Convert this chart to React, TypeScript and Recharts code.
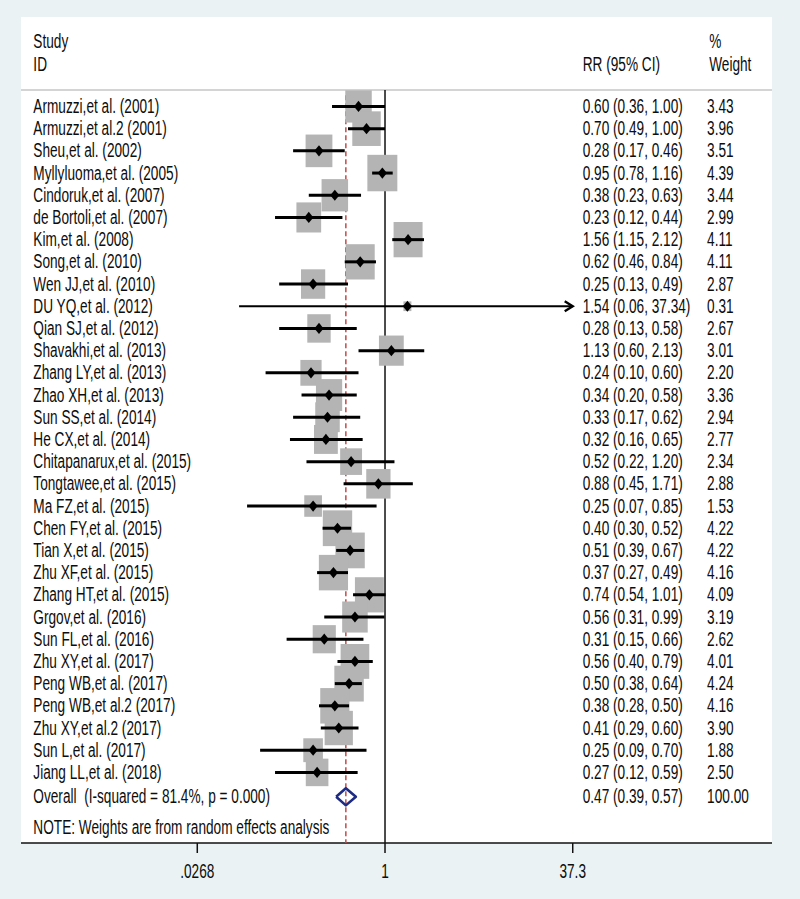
import React from 'react';
import { ScatterChart, Scatter, XAxis, YAxis, CartesianGrid } from 'recharts';

// ---------------- data ----------------
const studies = [
  'Armuzzi,et al. (2001)',
  'Armuzzi,et al.2 (2001)',
  'Sheu,et al. (2002)',
  'Myllyluoma,et al. (2005)',
  'Cindoruk,et al. (2007)',
  'de Bortoli,et al. (2007)',
  'Kim,et al. (2008)',
  'Song,et al. (2010)',
  'Wen JJ,et al. (2010)',
  'DU YQ,et al. (2012)',
  'Qian SJ,et al. (2012)',
  'Shavakhi,et al. (2013)',
  'Zhang LY,et al. (2013)',
  'Zhao XH,et al. (2013)',
  'Sun SS,et al. (2014)',
  'He CX,et al. (2014)',
  'Chitapanarux,et al. (2015)',
  'Tongtawee,et al. (2015)',
  'Ma FZ,et al. (2015)',
  'Chen FY,et al. (2015)',
  'Tian X,et al. (2015)',
  'Zhu XF,et al. (2015)',
  'Zhang HT,et al. (2015)',
  'Grgov,et al. (2016)',
  'Sun FL,et al. (2016)',
  'Zhu XY,et al. (2017)',
  'Peng WB,et al. (2017)',
  'Peng WB,et al.2 (2017)',
  'Zhu XY,et al.2 (2017)',
  'Sun L,et al. (2017)',
  'Jiang LL,et al. (2018)',
];
const rr = [0.6, 0.7, 0.28, 0.95, 0.38, 0.23, 1.56, 0.62, 0.25, 1.54, 0.28, 1.13, 0.24, 0.34, 0.33, 0.32, 0.52, 0.88, 0.25, 0.4, 0.51, 0.37, 0.74, 0.56, 0.31, 0.56, 0.5, 0.38, 0.41, 0.25, 0.27];
const ciLow = [0.36, 0.49, 0.17, 0.78, 0.23, 0.12, 1.15, 0.46, 0.13, 0.06, 0.13, 0.6, 0.1, 0.2, 0.17, 0.16, 0.22, 0.45, 0.07, 0.3, 0.39, 0.27, 0.54, 0.31, 0.15, 0.4, 0.38, 0.28, 0.29, 0.09, 0.12];
const ciHigh = [1.0, 1.0, 0.46, 1.16, 0.63, 0.44, 2.12, 0.84, 0.49, 37.34, 0.58, 2.13, 0.6, 0.58, 0.62, 0.65, 1.2, 1.71, 0.85, 0.52, 0.67, 0.49, 1.01, 0.99, 0.66, 0.79, 0.64, 0.5, 0.6, 0.7, 0.59];
const weights = [3.43, 3.96, 3.51, 4.39, 3.44, 2.99, 4.11, 4.11, 2.87, 0.31, 2.67, 3.01, 2.2, 3.36, 2.94, 2.77, 2.34, 2.88, 1.53, 4.22, 4.22, 4.16, 4.09, 3.19, 2.62, 4.01, 4.24, 4.16, 3.9, 1.88, 2.5];

const overallLabel = 'Overall  (I-squared = 81.4%, p = 0.000)';
const overallRR = 0.47;
const overallLow = 0.39;
const overallHigh = 0.57;
const overallWeight = 100.0;

const headerLeft = ['Study', 'ID'];
const headerRR = 'RR (95% CI)';
const headerWeight = ['%', 'Weight'];
const noteText = 'NOTE: Weights are from random effects analysis';

const tickValues = [0.0268, 1, 37.3];
const tickLabels = ['.0268', '1', '37.3'];

// ---------------- layout / style ----------------
const W = 800;
const H = 899;
const X_MIN = -7.018;
const X_MAX = 7.461;
const Y_MIN = -4.03;
const Y_MAX = 33.18;
const NAME_X = -6.78;
const RR_X = 3.811;
const WT_X = 6.21;
const HDR_WT_X = 6.25;
const HDR_ROWS = [-2.93, -1.88];
const SEP_ROW = -0.74;
const OVERALL_ROW = studies.length + 0.1;
const NOTE_ROW = 32.5;
const DIAMOND_HALF = 0.385; // rows
const AXIS_MAX_VAL = tickValues[tickValues.length - 1];
const AXIS_MIN_VAL = tickValues[0];
const AXIS_LIMIT = Math.log(AXIS_MAX_VAL);
const AXIS_LOW = Math.log(AXIS_MIN_VAL);

const FONT = "'Liberation Sans', Arial, Helvetica, sans-serif";
const FS = 21;
const SX = 0.65;
const TXT = '#0d0d0d';
const BASE = 6.5;
const BG = '#EAF2F3';
const BOX = '#b4b4b4';
const RED = '#c24a4a';
const NAVY = '#1d2b85';

const fmt = (v: number) => v.toFixed(2);

const rows = studies.map((name, i) => ({
  name,
  y: i,
  x: Math.log(rr[i]),
  w: weights[i],
  hiOff: ciHigh[i] > AXIS_MAX_VAL,
  loOff: ciLow[i] < AXIS_MIN_VAL,
  lnLo: Math.log(ciLow[i]),
  lnHi: Math.log(ciHigh[i]),
  rrText: `${fmt(rr[i])} (${fmt(ciLow[i])}, ${fmt(ciHigh[i])})`,
  wText: fmt(weights[i]),
}));

const ciSegments = rows.map((r) => ({
  off: r.hiOff || r.loOff,
  pts: [
    { x: Math.max(r.lnLo, AXIS_LOW), y: r.y },
    { x: Math.min(r.lnHi, AXIS_LIMIT), y: r.y },
  ],
}));
const arrowData = rows.filter((r) => r.hiOff).map((r) => ({ x: AXIS_LIMIT, y: r.y }));

const labelData = [
  ...rows.map((r) => ({ x: NAME_X, y: r.y, text: r.name })),
  { x: NAME_X, y: OVERALL_ROW, text: overallLabel },
  { x: NAME_X, y: NOTE_ROW, text: noteText },
  { x: NAME_X, y: HDR_ROWS[0], text: headerLeft[0] },
  { x: NAME_X, y: HDR_ROWS[1], text: headerLeft[1] },
];
const rrTextData = [
  ...rows.map((r) => ({ x: RR_X, y: r.y, text: r.rrText })),
  { x: RR_X, y: OVERALL_ROW, text: `${fmt(overallRR)} (${fmt(overallLow)}, ${fmt(overallHigh)})` },
  { x: RR_X, y: HDR_ROWS[1], text: headerRR },
];
const wtTextData = [
  ...rows.map((r) => ({ x: WT_X, y: r.y, text: r.wText })),
  { x: WT_X, y: OVERALL_ROW, text: fmt(overallWeight) },
  { x: HDR_WT_X, y: HDR_ROWS[0], text: headerWeight[0] },
  { x: HDR_WT_X, y: HDR_ROWS[1], text: headerWeight[1] },
];

const lnOverall = Math.log(overallRR);
const diamondData = [
  { x: Math.log(overallLow), y: OVERALL_ROW },
  { x: lnOverall, y: OVERALL_ROW - DIAMOND_HALF },
  { x: Math.log(overallHigh), y: OVERALL_ROW },
  { x: lnOverall, y: OVERALL_ROW + DIAMOND_HALF },
  { x: Math.log(overallLow), y: OVERALL_ROW },
];
const nullLine = [
  { x: 0, y: SEP_ROW },
  { x: 0, y: Y_MAX },
];
const overallLine = [
  { x: lnOverall, y: -0.5 },
  { x: lnOverall, y: Y_MAX },
];
const sepLine = [
  { x: X_MIN, y: SEP_ROW },
  { x: X_MAX, y: SEP_ROW },
];

const tickLn = tickValues.map((v) => Math.log(v));

// ---------------- shapes ----------------
const Empty = () => <g />;

const TextStart = (p: any) => {
  const { cx, cy, payload } = p;
  return (
    <text
      transform={`translate(${cx},${cy + BASE}) scale(${SX},1)`}
      x={0}
      y={0}
      textAnchor="start"
      fontFamily={FONT}
      fontSize={FS}
      fill={TXT}
      style={{ whiteSpace: 'pre' }}
    >
      {payload.text}
    </text>
  );
};

const BoxShape = (p: any) => {
  const { cx, cy, payload } = p;
  const s = Math.sqrt(payload.w);
  const bw = 14.3 * s;
  const bh = 17.4 * s;
  return <rect x={cx - bw / 2} y={cy - bh / 2} width={bw} height={bh} fill={BOX} />;
};

const PointShape = (p: any) => {
  const { cx, cy } = p;
  const hw = 4.6;
  const hh = 5.6;
  return <path d={`M${cx - hw},${cy}L${cx},${cy - hh}L${cx + hw},${cy}L${cx},${cy + hh}Z`} fill="#000" />;
};

const ArrowShape = (p: any) => {
  const { cx, cy } = p;
  return (
    <path
      d={`M${cx - 8},${cy - 5}L${cx},${cy}L${cx - 8},${cy + 5}`}
      fill="none"
      stroke="#000"
      strokeWidth={2.4}
      strokeLinejoin="miter"
    />
  );
};

const AxisTick = (p: any) => {
  const { x, y, payload } = p;
  let idx = 0;
  let best = Infinity;
  tickLn.forEach((t, i) => {
    const d = Math.abs(t - payload.value);
    if (d < best) {
      best = d;
      idx = i;
    }
  });
  return (
    <text
      transform={`translate(${x},${y + 23}) scale(${SX},1)`}
      x={0}
      y={0}
      textAnchor="middle"
      fontFamily={FONT}
      fontSize={FS}
      fill={TXT}
    >
      {tickLabels[idx]}
    </text>
  );
};

export default function App() {
  return (
    <div style={{ position: 'absolute', left: 0, top: 0, width: W, height: H, background: BG }}>
      <ScatterChart width={W} height={H} margin={{ top: 17, right: 28, left: 21, bottom: 16 }}>
        <CartesianGrid fill="#ffffff" stroke="none" horizontal={false} vertical={false} />
        <XAxis
          type="number"
          dataKey="x"
          domain={[X_MIN, X_MAX]}
          allowDataOverflow
          ticks={tickLn}
          interval={0}
          height={40}
          tickSize={10}
          tickMargin={2}
          axisLine={{ stroke: '#111', strokeWidth: 1.5 }}
          tickLine={{ stroke: '#111', strokeWidth: 1.5 }}
          tick={<AxisTick />}
        />
        <YAxis type="number" dataKey="y" domain={[Y_MIN, Y_MAX]} allowDataOverflow reversed hide />

        <Scatter data={sepLine} fill="#d4d4d4" shape={Empty} line={{ stroke: '#d4d4d4', strokeWidth: 2 }} isAnimationActive={false} />
        <Scatter data={nullLine} fill="#111" shape={Empty} line={{ stroke: '#111', strokeWidth: 1.5 }} isAnimationActive={false} />
        <Scatter
          data={overallLine}
          fill={RED}
          shape={Empty}
          line={{ stroke: RED, strokeWidth: 1.5, strokeDasharray: '5 3' }}
          isAnimationActive={false}
        />

        <Scatter data={rows} fill={BOX} shape={BoxShape} isAnimationActive={false} />

        {ciSegments.map((seg, i) => (
          <Scatter
            key={`ci-${i}`}
            data={seg.pts}
            fill="#000"
            shape={Empty}
            line={{ stroke: '#000', strokeWidth: seg.off ? 2.2 : 3 }}
            isAnimationActive={false}
          />
        ))}
        <Scatter data={arrowData} fill="#000" shape={ArrowShape} isAnimationActive={false} />

        <Scatter data={rows} fill="#000" shape={PointShape} isAnimationActive={false} />

        <Scatter
          data={diamondData}
          fill={NAVY}
          shape={Empty}
          line={{ stroke: NAVY, strokeWidth: 2.6, fill: 'none', strokeLinejoin: 'round' }}
          isAnimationActive={false}
        />

        <Scatter data={labelData} fill={TXT} shape={TextStart} isAnimationActive={false} />
        <Scatter data={rrTextData} fill={TXT} shape={TextStart} isAnimationActive={false} />
        <Scatter data={wtTextData} fill={TXT} shape={TextStart} isAnimationActive={false} />
      </ScatterChart>
    </div>
  );
}
